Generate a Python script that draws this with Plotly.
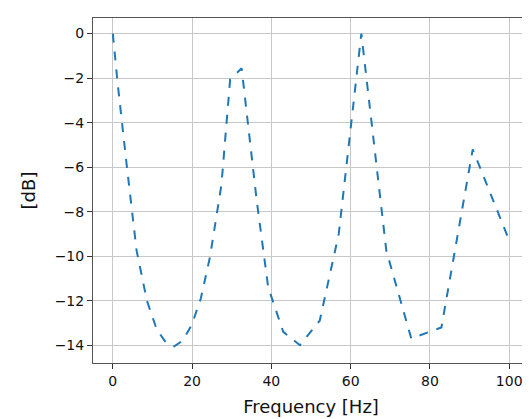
import plotly.graph_objects as go

# Frequency response
freq = [0, 1.2, 3.5, 6, 8.6, 11.1, 13.3, 15.5, 17.6, 19.9, 22.2, 24.5, 27.4, 29.6, 32.5,
        36.3, 39.2, 43, 47.2, 52.2, 57, 62.7, 69, 75.3, 82.9, 90.8, 99.7]
db = [0, -2.2, -5.9, -9.75, -12, -13.3, -13.85, -14.05, -13.8, -13.1, -11.9, -10.05, -6.8,
      -2.06, -1.56, -7.5, -11.4, -13.4, -14, -12.9, -9, 0, -9.75, -13.7, -13.2, -5.2, -9.16]

fig = go.Figure(go.Scatter(x=freq, y=db, mode="lines",
                           line=dict(color="#1f77b4", width=2, dash="dash")))

axis = dict(showline=True, linecolor="#555", linewidth=1, mirror=True,
            showgrid=True, gridcolor="#c8c8c8", gridwidth=1, zeroline=False,
            ticks="outside", ticklen=5, tickcolor="#333", automargin=False,
            tickfont=dict(size=14, color="#111"))
fig.update_xaxes(axis, range=[-5, 105], dtick=20,
                 title=dict(text="Frequency [Hz]", standoff=12,
                            font=dict(size=18, color="#111")))
fig.update_yaxes(axis, range=[-14.8, 0.7], dtick=2,
                 title=dict(text="[dB]", standoff=14,
                            font=dict(size=18, color="#111")))

fig.update_layout(width=530, height=419, template="plotly_white",
                  font=dict(family="DejaVu Sans"), showlegend=False,
                  margin=dict(l=85, r=9, t=10, b=64, autoexpand=False),
                  plot_bgcolor="white", paper_bgcolor="white")

fig.write_html("out.html")
